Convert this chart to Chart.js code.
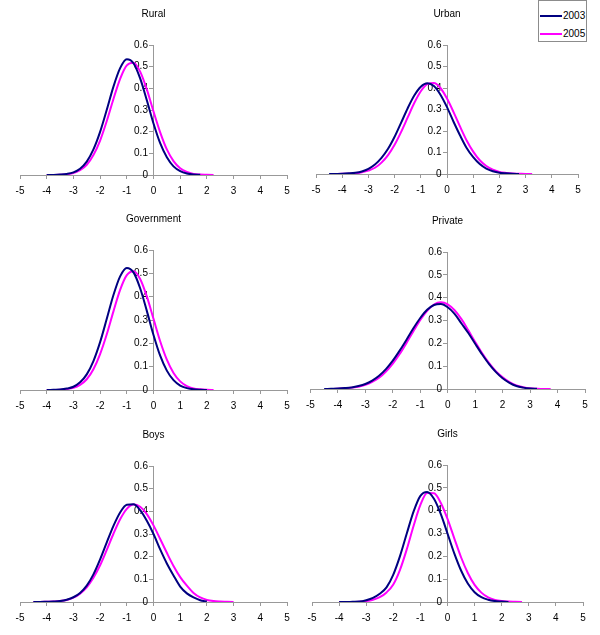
<!DOCTYPE html>
<html>
<head>
<meta charset="utf-8">
<script src="https://cdn.jsdelivr.net/npm/chart.js@4.4.0/dist/chart.umd.min.js"></script>
<style>
  body { margin: 0; background: #fff; }
  #wrap { position: relative; width: 600px; height: 635px; font-family: "Liberation Sans", Arial, sans-serif; }
  #wrap canvas { position: absolute; }
  #legend { position: absolute; left: 538px; top: 0px; width: 49px; height: 42px; border: 1px solid #8c8c8c; background: #fff; font-size: 10px; box-sizing: border-box; }
  .lg-row { position: absolute; left: 1px; height: 14px; width: 46px; }
  .lg-line { position: absolute; left: 0; top: 6px; width: 22px; height: 2px; }
  .lg-text { position: absolute; left: 23px; top: 0; line-height: 14px; color: #000; }
</style>
</head>
<body>
<div id="wrap">
  <div id="legend"></div>
</div>
<script>
// x positions the densities were read at
var xGrid = [-4.5, -4.25, -4, -3.75, -3.5, -3.25, -3, -2.75, -2.5, -2.25, -2, -1.75, -1.5, -1.25, -1, -0.75,
             -0.5, -0.25, 0, 0.25, 0.5, 0.75, 1, 1.25, 1.5, 1.75, 2, 2.25, 2.5, 2.75, 3, 3.25, 3.5, 3.75];

var seriesNames = ['2003', '2005'];
var panelTitles = ['Rural', 'Urban', 'Government', 'Private', 'Boys', 'Girls'];

var rural2003 = [null, null, 0.000, 0.0005, 0.002, 0.005, 0.012, 0.029, 0.062, 0.118, 0.199, 0.301, 0.408, 0.493, 0.534, 0.516,
                 0.446, 0.345, 0.238, 0.147, 0.082, 0.040, 0.018, 0.007, 0.002, 0.001, null, null, null, null, null, null, null, null];
var rural2005 = [null, null, 0.000, 0.0003, 0.001, 0.003, 0.009, 0.022, 0.047, 0.092, 0.159, 0.249, 0.351, 0.444, 0.506, 0.518,
                 0.477, 0.395, 0.293, 0.197, 0.118, 0.064, 0.031, 0.014, 0.005, 0.002, 0.001, 0.000, null, null, null, null, null, null];

var urban2003 = [0.000, 0.0004, 0.001, 0.003, 0.006, 0.012, 0.024, 0.044, 0.075, 0.117, 0.173, 0.239, 0.306, 0.365, 0.406, 0.422,
                 0.409, 0.369, 0.311, 0.243, 0.179, 0.121, 0.078, 0.046, 0.025, 0.013, 0.006, 0.003, 0.001, 0.000, null, null, null, null];
var urban2005 = [null, 0.000, 0.001, 0.001, 0.003, 0.008, 0.016, 0.029, 0.053, 0.088, 0.136, 0.196, 0.263, 0.330, 0.385, 0.418,
                 0.423, 0.400, 0.351, 0.288, 0.220, 0.156, 0.104, 0.064, 0.037, 0.020, 0.010, 0.005, 0.002, 0.001, 0.000, 0.000, null, null];

var government2003 = [null, null, 0.000, 0.001, 0.002, 0.006, 0.014, 0.033, 0.067, 0.124, 0.205, 0.305, 0.407, 0.487, 0.523, 0.504,
                      0.436, 0.339, 0.236, 0.147, 0.083, 0.042, 0.019, 0.008, 0.003, 0.001, 0.000, null, null, null, null, null, null, null];
var government2005 = [null, null, 0.000, 0.000, 0.001, 0.004, 0.009, 0.022, 0.046, 0.089, 0.154, 0.239, 0.337, 0.429, 0.492, 0.509,
                      0.476, 0.401, 0.305, 0.209, 0.130, 0.073, 0.037, 0.017, 0.007, 0.003, 0.001, 0.000, null, null, null, null, null, null];

var private2003 = [0.000, 0.001, 0.002, 0.004, 0.007, 0.013, 0.022, 0.037, 0.058, 0.087, 0.124, 0.168, 0.216, 0.266, 0.311, 0.347,
                   0.368, 0.372, 0.358, 0.329, 0.287, 0.245, 0.198, 0.152, 0.110, 0.075, 0.047, 0.027, 0.013, 0.006, 0.002, 0.001, null, null];
var private2005 = [null, 0.000, 0.001, 0.003, 0.006, 0.010, 0.018, 0.031, 0.049, 0.076, 0.111, 0.153, 0.202, 0.253, 0.302, 0.342,
                   0.370, 0.380, 0.371, 0.345, 0.306, 0.257, 0.206, 0.157, 0.114, 0.078, 0.051, 0.030, 0.016, 0.008, 0.003, 0.001, 0.000, 0.000];

var boys2003 = [0.000, 0.000, 0.001, 0.002, 0.004, 0.010, 0.021, 0.040, 0.072, 0.122, 0.188, 0.263, 0.336, 0.395, 0.429, 0.431,
                0.405, 0.358, 0.300, 0.232, 0.170, 0.117, 0.068, 0.038, 0.020, 0.008, 0.002, null, null, null, null, null, null, null];
var boys2005 = [0.000, 0.000, 0.001, 0.002, 0.004, 0.009, 0.019, 0.037, 0.065, 0.107, 0.162, 0.230, 0.301, 0.365, 0.411, 0.430,
                0.420, 0.388, 0.338, 0.278, 0.217, 0.159, 0.110, 0.072, 0.040, 0.020, 0.009, 0.004, 0.002, 0.001, 0.000, null, null, null];

var girls2003 = [null, null, 0.000, 0.000, 0.001, 0.002, 0.008, 0.018, 0.036, 0.064, 0.120, 0.202, 0.301, 0.397, 0.465, 0.482,
                 0.452, 0.386, 0.300, 0.213, 0.138, 0.081, 0.043, 0.021, 0.010, 0.004, 0.002, 0.000, null, null, null, null, null, null];
var girls2005 = [null, null, 0.000, 0.000, 0.000, 0.001, 0.004, 0.010, 0.021, 0.042, 0.077, 0.142, 0.232, 0.334, 0.425, 0.477,
                 0.476, 0.435, 0.364, 0.279, 0.196, 0.127, 0.075, 0.041, 0.020, 0.009, 0.004, 0.002, 0.001, 0.000, null, null, null, null];

var panelSeries = [
  [rural2003, rural2005],
  [urban2003, urban2005],
  [government2003, government2005],
  [private2003, private2005],
  [boys2003, boys2005],
  [girls2003, girls2005]
];

var colors = ['#000080', '#ff00ff'];

// canvas placement: plot area left/right/top/bottom in page pixels
var plotBoxes = [
  { left: 20,  right: 287, top: 45,  bottom: 175, x0: 0 },
  { left: 316, right: 578, top: 45,  bottom: 174, x0: 300 },
  { left: 20,  right: 287, top: 250, bottom: 390, x0: 0 },
  { left: 310, right: 585, top: 252, bottom: 389, x0: 300 },
  { left: 20,  right: 287, top: 466, bottom: 602, x0: 0 },
  { left: 312, right: 583, top: 465, bottom: 602, x0: 300 }
];

Chart.defaults.font.family = '"Liberation Sans", Arial, sans-serif';
Chart.defaults.color = '#000';

var TOP_SPACE = 45, BOTTOM_SPACE = 25;
var wrap = document.getElementById('wrap');

function toPoints(vals) {
  var pts = [];
  for (var i = 0; i < xGrid.length; i++) {
    if (vals[i] !== null && vals[i] !== undefined) pts.push({ x: xGrid[i], y: vals[i] });
  }
  return pts;
}

panelTitles.forEach(function (title, p) {
  var b = plotBoxes[p];
  var cv = document.createElement('canvas');
  var w = 300, h = (b.bottom - b.top) + TOP_SPACE + BOTTOM_SPACE;
  cv.width = w; cv.height = h;
  cv.style.left = b.x0 + 'px';
  cv.style.top = (b.top - TOP_SPACE) + 'px';
  wrap.appendChild(cv);

  new Chart(cv.getContext('2d'), {
    type: 'line',
    data: {
      datasets: panelSeries[p].map(function (vals, s) {
        return {
          label: seriesNames[s],
          data: toPoints(vals),
          borderColor: colors[s],
          backgroundColor: colors[s],
          borderWidth: 2,
          pointRadius: 0,
          fill: false,
          cubicInterpolationMode: 'monotone'
        };
      })
    },
    options: {
      responsive: false,
      animation: false,
      events: [],
      layout: { padding: { left: b.left - b.x0, right: b.x0 + w - b.right, top: 0, bottom: 0 } },
      plugins: {
        legend: { display: false },
        tooltip: { enabled: false },
        title: {
          display: true,
          text: title,
          color: '#000',
          font: { size: 10, weight: 'normal' },
          padding: { top: 8, bottom: 25 }
        }
      },
      scales: {
        x: {
          type: 'linear',
          min: -5, max: 5,
          afterFit: function (s) { s.height = BOTTOM_SPACE; },
          ticks: { stepSize: 1, padding: 6, font: { size: 10 }, color: '#000', maxRotation: 0 },
          grid: { drawOnChartArea: false, drawTicks: true, tickLength: 4, color: '#999' },
          border: { display: true, color: '#999' }
        },
        y: {
          type: 'linear',
          position: { x: 0 },
          min: 0, max: 0.6,
          ticks: {
            stepSize: 0.1, font: { size: 10 }, color: '#000',
            callback: function (v) { return (Math.round(v * 10) / 10) + '  '; }
          },
          grid: { drawOnChartArea: false, drawTicks: true, tickLength: 4, color: '#999' },
          border: { display: true, color: '#999' }
        }
      }
    }
  });
});

// legend box (top right)
var legend = document.getElementById('legend');
seriesNames.forEach(function (name, s) {
  var row = document.createElement('div');
  row.className = 'lg-row';
  row.style.top = (8 + s * 18) + 'px';
  var ln = document.createElement('span');
  ln.className = 'lg-line';
  ln.style.background = colors[s];
  var tx = document.createElement('span');
  tx.className = 'lg-text';
  tx.textContent = name;
  row.appendChild(ln);
  row.appendChild(tx);
  legend.appendChild(row);
});
</script>
</body>
</html>
